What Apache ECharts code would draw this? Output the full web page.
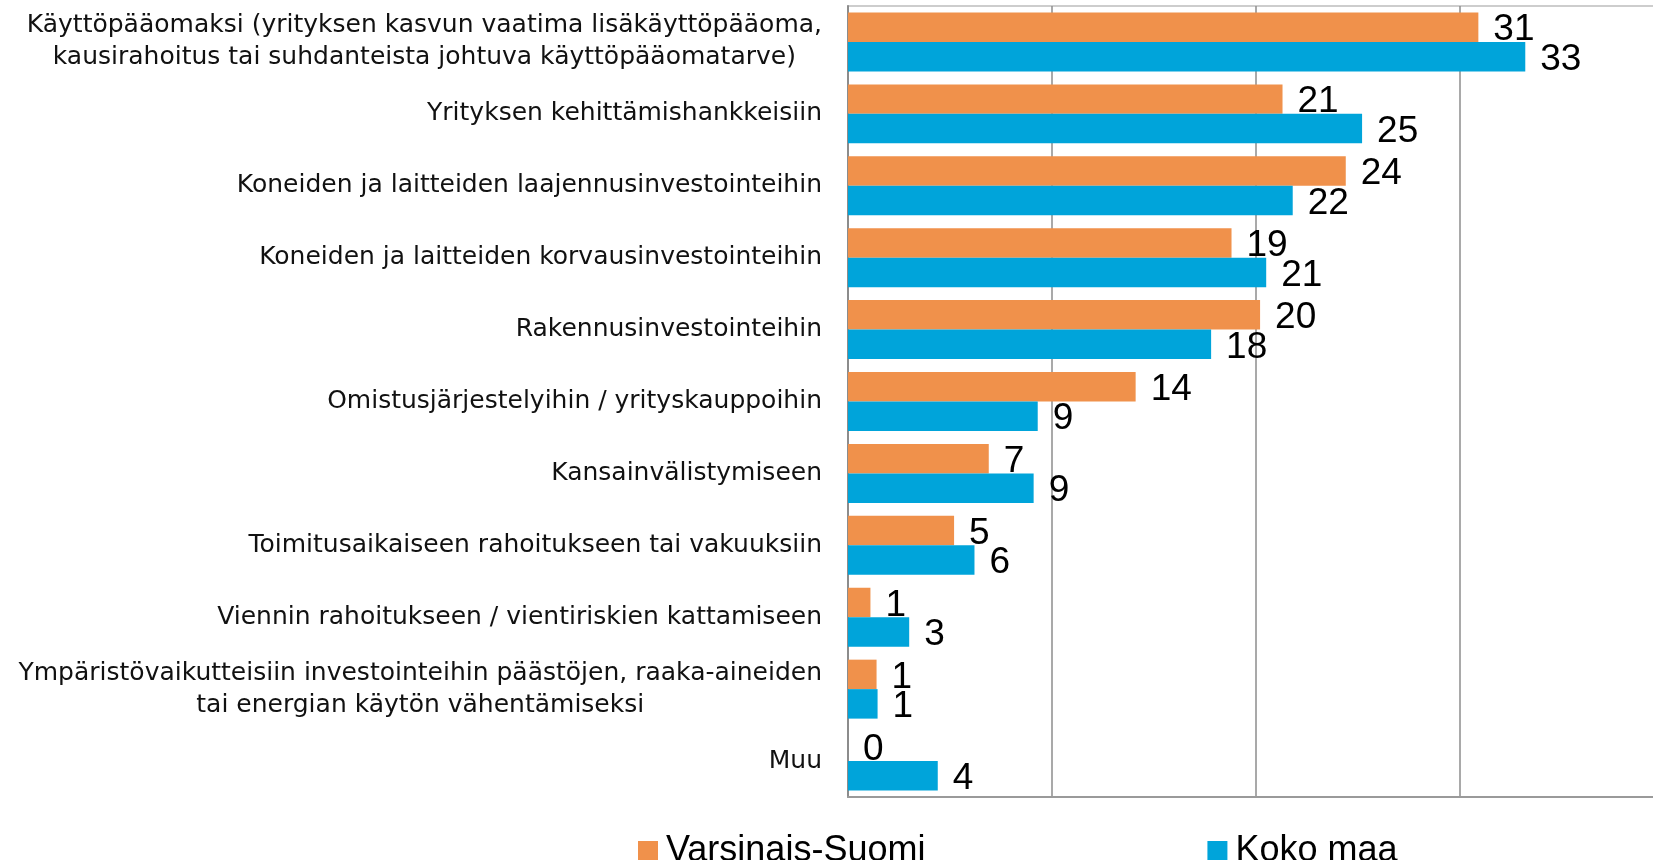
<!DOCTYPE html>
<html>
<head>
<meta charset="utf-8">
<script src="https://cdn.jsdelivr.net/npm/echarts@6/dist/echarts.min.js"></script>
<style>
html,body{margin:0;padding:0;background:#fff;}
#chart{width:1653px;height:860px;}
</style>
</head>
<body>
<div id="chart"></div>
<script>
const categories = [
  'Käyttöpääomaksi (yrityksen kasvun vaatima lisäkäyttöpääoma,\nkausirahoitus tai suhdanteista johtuva käyttöpääomatarve)',
  'Yrityksen kehittämishankkeisiin',
  'Koneiden ja laitteiden laajennusinvestointeihin',
  'Koneiden ja laitteiden korvausinvestointeihin',
  'Rakennusinvestointeihin',
  'Omistusjärjestelyihin / yrityskauppoihin',
  'Kansainvälistymiseen',
  'Toimitusaikaiseen rahoitukseen tai vakuuksiin',
  'Viennin rahoitukseen / vientiriskien kattamiseen',
  'Ympäristövaikutteisiin investointeihin päästöjen, raaka-aineiden\ntai energian käytön vähentämiseksi',
  'Muu'
];
const seriesNames = ['Varsinais-Suomi', 'Koko maa'];
const varsinaisSuomi = [30.9, 21.3, 24.4, 18.8, 20.2, 14.1, 6.9, 5.2, 1.1, 1.4, 0];
const kokoMaa = [33.2, 25.2, 21.8, 20.5, 17.8, 9.3, 9.1, 6.2, 3.0, 1.45, 4.4];
const axisTicks = [0, 10, 20, 30, 40];

const catFamily = '"DejaVu Sans", Verdana, sans-serif';
const catSize = 25;
const cv = document.createElement('canvas').getContext('2d');
cv.font = catSize + 'px ' + catFamily;
const rich = {};
const labelMap = {};
let key = 0;
categories.forEach(function (c) {
  const lines = c.split('\n');
  if (lines.length === 1) { labelMap[c] = c; return; }
  const widths = lines.map(function (l) { return cv.measureText(l).width; });
  const maxW = Math.max.apply(null, widths);
  labelMap[c] = lines.map(function (l, i) {
    const k = 'p' + (key++);
    rich[k] = {
      fontSize: catSize, fontFamily: catFamily, color: '#111',
      lineHeight: 32, padding: [0, (maxW - widths[i]) / 2, 0, 0]
    };
    return '{' + k + '|' + l + '}';
  }).join('\n');
});

const chart = echarts.init(document.getElementById('chart'), null, {renderer: 'canvas'});
const labelStyle = {
  show: true, position: 'right', distance: 15, offset: [0, 3],
  fontSize: 37, fontFamily: '"Liberation Sans", Arial, sans-serif', color: '#000',
  formatter: function (p) { return Math.round(p.value); }
};
chart.setOption({
  animation: false,
  backgroundColor: '#fff',
  grid: {
    left: 848, right: -11, top: 6, bottom: 63,
    show: true, borderColor: '#bdbdbd', borderWidth: 1.5,
    outerBoundsMode: 'none', containLabel: false
  },
  legend: {
    data: seriesNames,
    left: 633, top: 828,
    icon: 'rect', itemWidth: 20, itemHeight: 20, itemGap: 282,
    textStyle: { fontSize: 36, fontFamily: '"Liberation Sans", Arial, sans-serif', color: '#000', lineHeight: 36, padding: [0, 0, 0, 3] }
  },
  xAxis: {
    type: 'value', min: axisTicks[0], max: axisTicks[axisTicks.length - 1], interval: 10,
    axisLine: { show: true, lineStyle: { color: '#9a9a9a', width: 2 } },
    axisTick: { show: false },
    axisLabel: { show: false },
    splitLine: { show: true, lineStyle: { color: '#8c8c8c', width: 1.5 } }
  },
  yAxis: {
    type: 'category', data: categories, inverse: true,
    axisLine: { show: true, lineStyle: { color: '#8c8c8c', width: 2 } },
    axisTick: { show: false },
    axisLabel: {
      margin: 26, fontSize: catSize, fontFamily: catFamily, color: '#111',
      lineHeight: 32, align: 'right',
      formatter: function (v) { return labelMap[v]; },
      rich: rich
    }
  },
  series: [
    { name: seriesNames[0], type: 'bar', data: varsinaisSuomi, barGap: '0%', barCategoryGap: '18%',
      itemStyle: { color: '#F0914B' }, label: labelStyle },
    { name: seriesNames[1], type: 'bar', data: kokoMaa, barGap: '0%', barCategoryGap: '18%',
      itemStyle: { color: '#00A4DA' }, label: labelStyle }
  ]
});
</script>
</body>
</html>
